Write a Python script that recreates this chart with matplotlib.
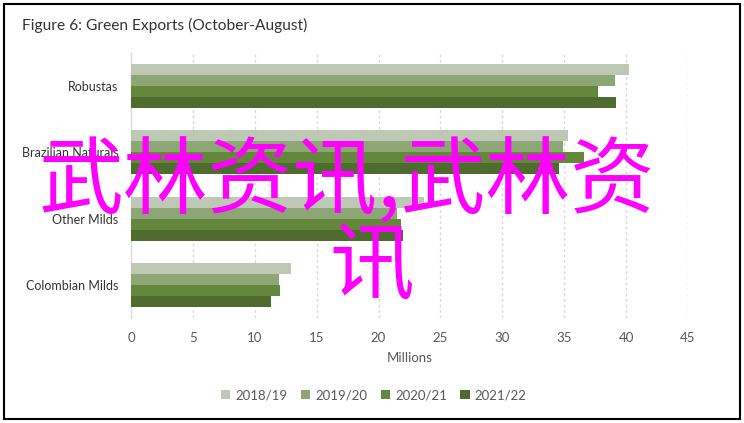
import numpy as np
import matplotlib
matplotlib.use("Agg")
import matplotlib.pyplot as plt
import matplotlib.patches as patches

# values (millions of bags)
categories = ["Robustas", "Brazilian Naturals", "Other Milds", "Colombian Milds"]
seasons = ["2018/19", "2019/20", "2020/21", "2021/22"]
exp_2018 = [40.2, 35.3, 23.7, 12.95]
exp_2019 = [39.1, 34.9, 21.5, 11.95]
exp_2020 = [37.7, 36.6, 21.8, 12.03]
exp_2021 = [39.2, 34.6, 22.0, 11.35]
x_ticks = [0, 5, 10, 15, 20, 25, 30, 35, 40, 45]

colors = ["#bec9b5", "#8da675", "#63873b", "#4f6c2f"]
text_col = "#595959"

plt.rcParams["font.family"] = ["Lato", "DejaVu Sans"]

fig = plt.figure(figsize=(7.44, 4.23), dpi=100)
ax = fig.add_axes([131 / 744, 105 / 423, 557 / 744, 265 / 423])

y = np.arange(len(categories))
h = 0.6667 / 4
series = [exp_2018, exp_2019, exp_2020, exp_2021]
for i, vals in enumerate(series):
    ax.barh(y - 0.25 + i * h, vals, height=h, color=colors[i],
            label=seasons[i], zorder=3)

ax.set_ylim(3.5, -0.5)
ax.set_xlim(0, 45)
ax.set_yticks(y)
ax.set_yticklabels(categories, fontsize=9, color="#333333")
ax.set_xticks(x_ticks)
ax.set_xticklabels([str(t) for t in x_ticks], fontsize=9.5, color=text_col)
ax.tick_params(length=0)
ax.tick_params(axis="x", pad=10)
ax.tick_params(axis="y", pad=9)

for t in x_ticks[1:]:
    ax.axvline(t, color="#d9d9d9", linestyle=(0, (2, 2)), linewidth=1, zorder=1)
for s in ["top", "right", "bottom"]:
    ax.spines[s].set_visible(False)
ax.spines["left"].set_color("#d9d9d9")
ax.spines["left"].set_linewidth(1)

ax.set_xlabel("Millions", fontsize=9.5, color=text_col, labelpad=6)

fig.text(22 / 744, 1 - 25 / 423, "Figure 6: Green Exports (October-August)",
         fontsize=11.2, color="#333333", va="center", ha="left")

fig.legend(loc="center", bbox_to_anchor=(374 / 744, 1 - 395 / 423), ncol=4,
           frameon=False, fontsize=9.5, handlelength=0.7, handleheight=0.7,
           handletextpad=0.4, columnspacing=1.0, labelcolor=text_col)

# outer frame
fig.add_artist(patches.Rectangle((4 / 744, 4 / 423), 736 / 744, 415 / 423,
                                 transform=fig.transFigure, fill=False,
                                 edgecolor="black", linewidth=1.5))

# watermark overlay
wm_font = ["Noto Sans CJK SC", "DejaVu Sans"]
fig.text(347 / 744, 1 - 183 / 423, "武林资讯,武林资", family=wm_font,
         fontsize=61, color="#ff00ff", ha="center", va="center", zorder=10)
fig.text(372 / 744, 1 - 268 / 423, "讯", family=wm_font,
         fontsize=61, color="#ff00ff", ha="center", va="center", zorder=10)

fig.savefig("out.png", dpi=100)
